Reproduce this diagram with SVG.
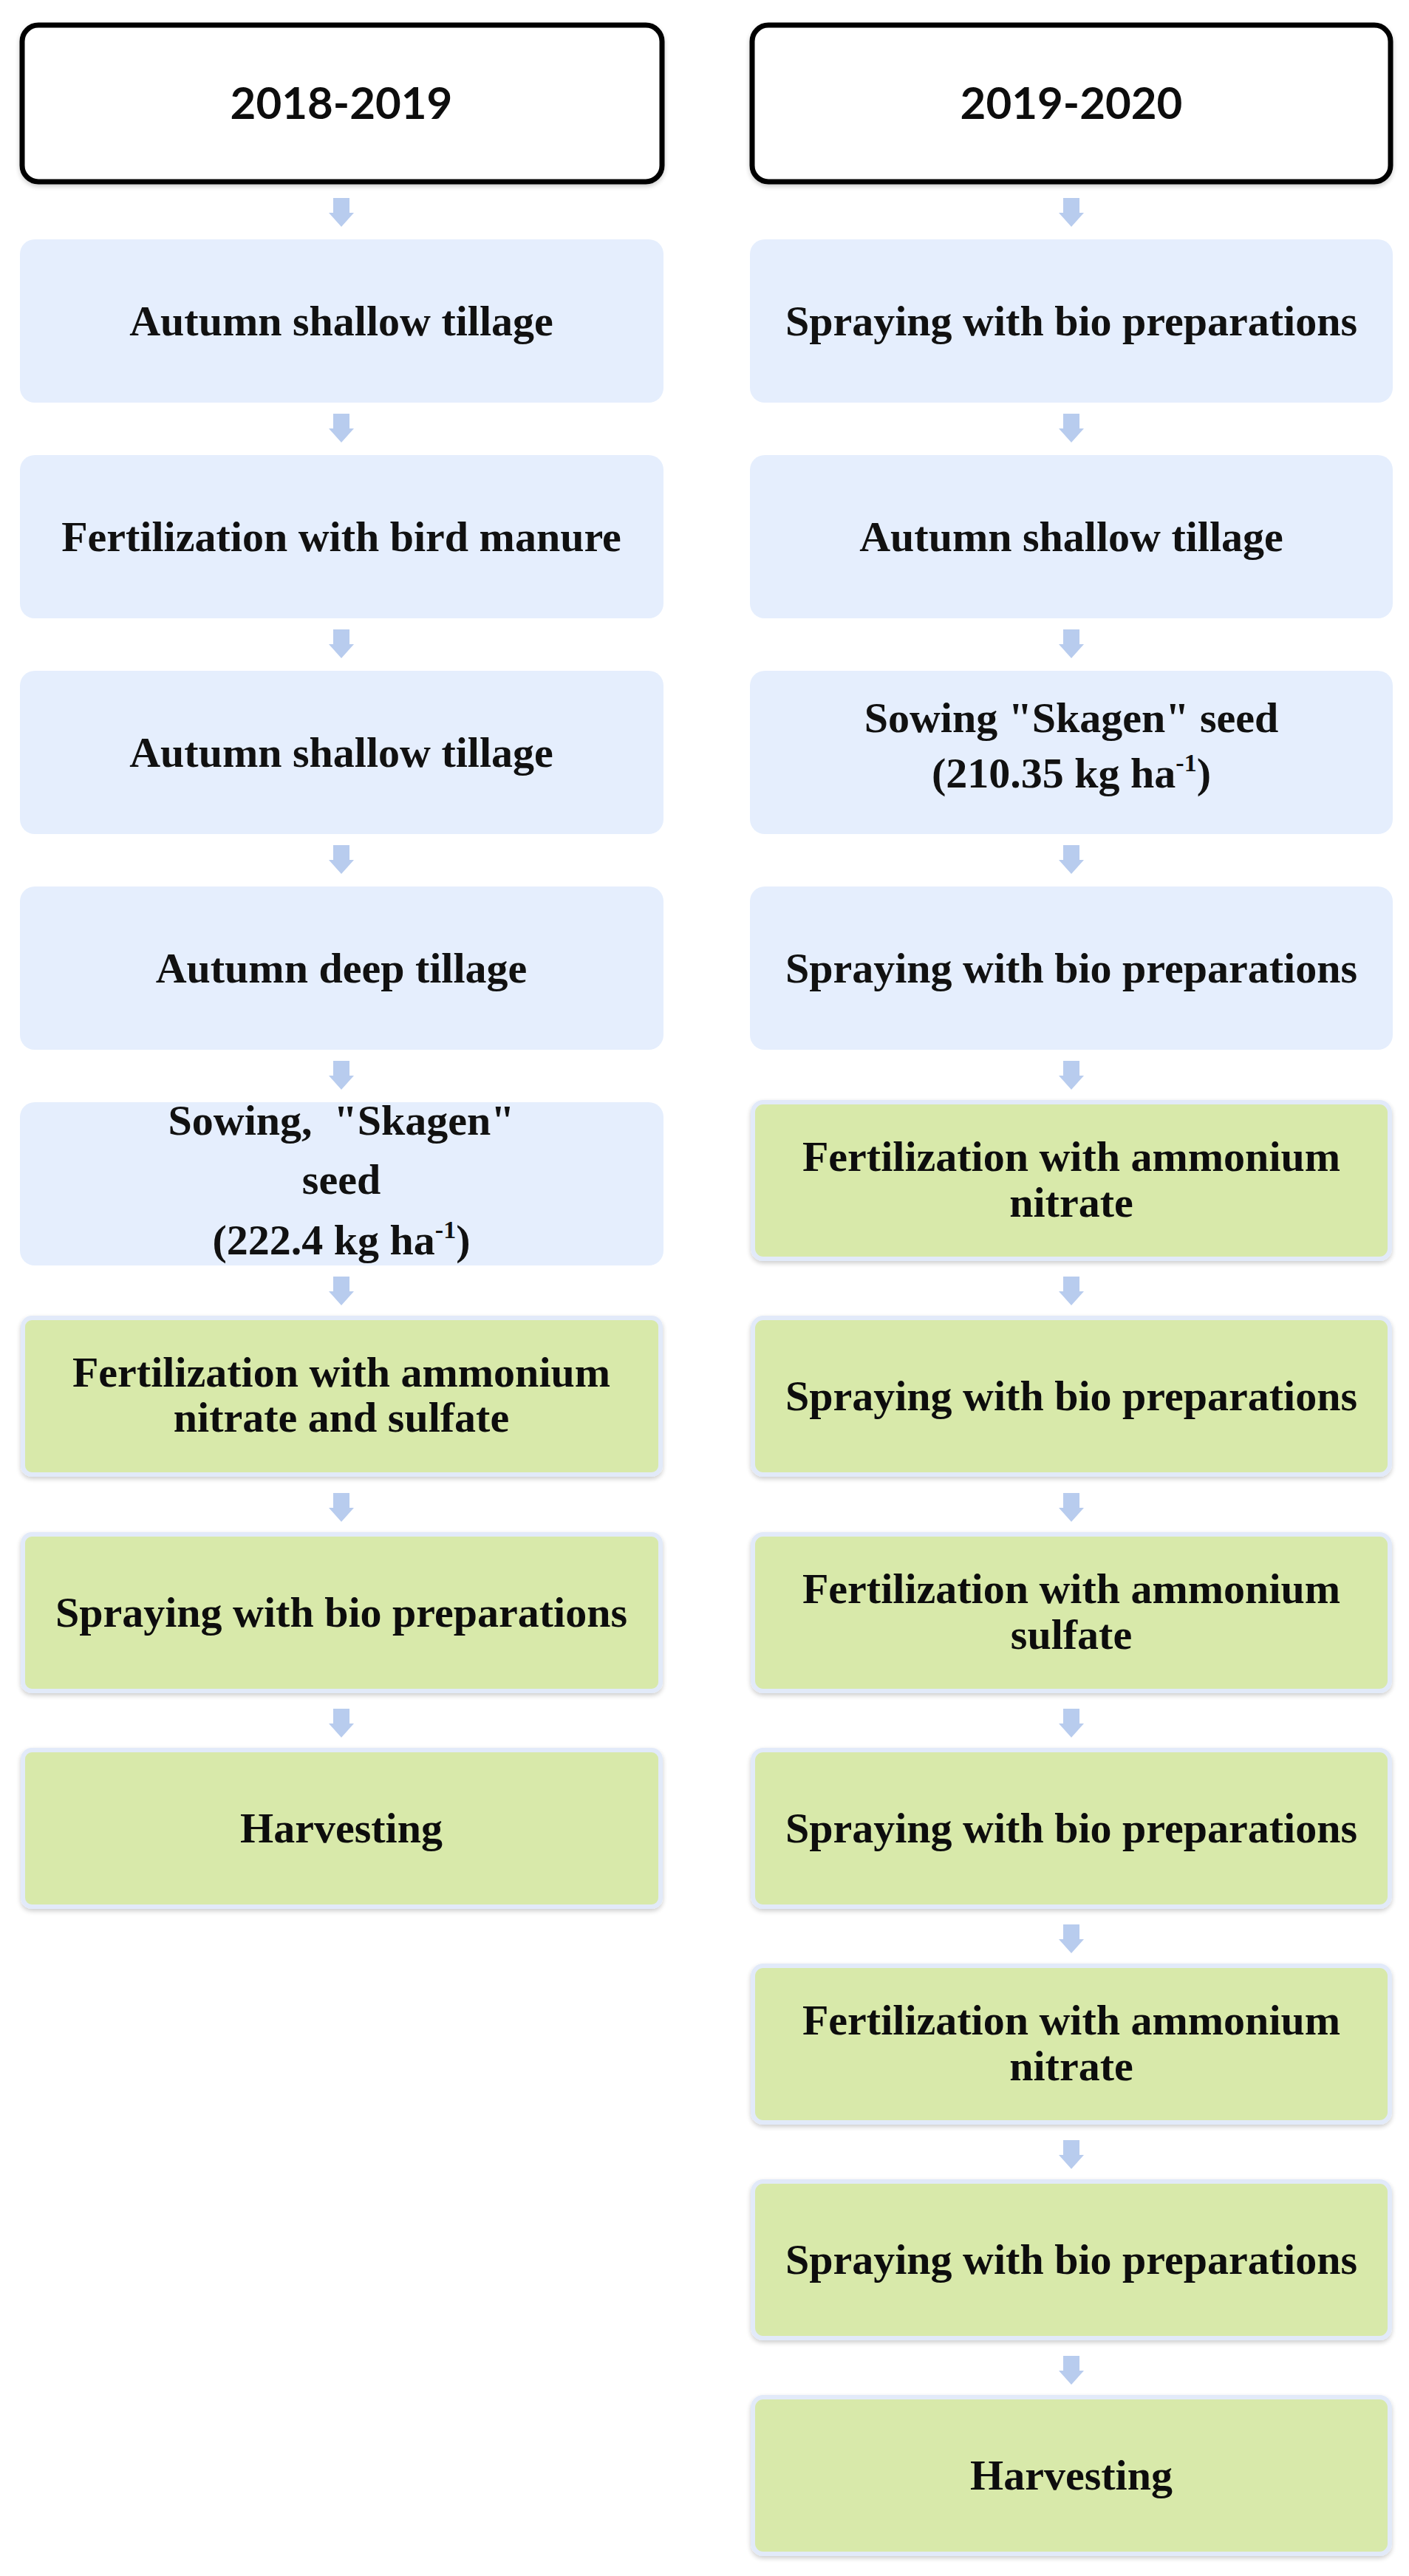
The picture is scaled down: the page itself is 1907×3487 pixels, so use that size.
<svg xmlns="http://www.w3.org/2000/svg" width="1907" height="3487" viewBox="0 0 1907 3487">
<style>
.hdr{fill:#ffffff;stroke:#000000;stroke-width:7}
.blue{fill:#E5EEFD}
.green{fill:#D8E9AA;stroke:#E2EAF9;stroke-width:6}
.ht{font-family:Lato,"Liberation Sans",sans-serif;font-weight:bold;font-size:60px;fill:#111;text-anchor:middle}
.t{font-family:"Liberation Serif","Times New Roman",serif;font-weight:bold;font-size:58px;fill:#111;text-anchor:middle}
.sup{font-size:34px}
.arr{fill:#B8CCEE}
</style>
<defs>
<filter id="sh" x="-5%" y="-10%" width="110%" height="125%">
<feGaussianBlur in="SourceAlpha" stdDeviation="3"/>
<feOffset dx="0" dy="3" result="b"/>
<feComponentTransfer><feFuncA type="linear" slope="0.2"/></feComponentTransfer>
<feMerge><feMergeNode/><feMergeNode in="SourceGraphic"/></feMerge>
</filter>
<path id="a" d="M-11,0 H11 V20 H17 L0,39 L-17,20 H-11 Z"/>
</defs>
<rect width="1907" height="3487" fill="#ffffff"/>

<g id="connectors" class="arr">
<use href="#a" x="462" y="268"/>
<use href="#a" x="462" y="560"/>
<use href="#a" x="462" y="852"/>
<use href="#a" x="462" y="1144"/>
<use href="#a" x="462" y="1436"/>
<use href="#a" x="462" y="1728"/>
<use href="#a" x="462" y="2021"/>
<use href="#a" x="462" y="2313"/>
<use href="#a" x="1450" y="268"/>
<use href="#a" x="1450" y="560"/>
<use href="#a" x="1450" y="852"/>
<use href="#a" x="1450" y="1144"/>
<use href="#a" x="1450" y="1436"/>
<use href="#a" x="1450" y="1728"/>
<use href="#a" x="1450" y="2021"/>
<use href="#a" x="1450" y="2313"/>
<use href="#a" x="1450" y="2605"/>
<use href="#a" x="1450" y="2897"/>
<use href="#a" x="1450" y="3189"/>
</g>

<g id="h1" filter="url(#sh)"><rect class="hdr" x="30" y="34" width="866" height="212" rx="22"/><text class="ht" x="462" y="161">2018-2019</text></g>
<g id="h2" filter="url(#sh)"><rect class="hdr" x="1018" y="34" width="864" height="212" rx="22"/><text class="ht" x="1450" y="161">2019-2020</text></g>

<g id="L1"><rect class="blue" x="27" y="324" width="871" height="221" rx="20"/><text class="t" x="462" y="454">Autumn shallow tillage</text></g>
<g id="L2"><rect class="blue" x="27" y="616" width="871" height="221" rx="20"/><text class="t" x="462" y="746">Fertilization with bird manure</text></g>
<g id="L3"><rect class="blue" x="27" y="908" width="871" height="221" rx="20"/><text class="t" x="462" y="1038">Autumn shallow tillage</text></g>
<g id="L4"><rect class="blue" x="27" y="1200" width="871" height="221" rx="20"/><text class="t" x="462" y="1330">Autumn deep tillage</text></g>
<g id="L5"><rect class="blue" x="27" y="1492" width="871" height="221" rx="20"/><text class="t" x="462" y="1536" xml:space="preserve">Sowing,  "Skagen"</text><text class="t" x="462" y="1616">seed</text><text class="t" x="462" y="1698">(222.4 kg ha<tspan class="sup" dy="-22">-1</tspan><tspan dy="22">)</tspan></text></g>
<g id="L6" filter="url(#sh)"><rect class="green" x="31" y="1784" width="863" height="212" rx="12"/><text class="t" x="462" y="1877">Fertilization with ammonium</text><text class="t" x="462" y="1938">nitrate and sulfate</text></g>
<g id="L7" filter="url(#sh)"><rect class="green" x="31" y="2077" width="863" height="212" rx="12"/><text class="t" x="462" y="2202">Spraying with bio preparations</text></g>
<g id="L8" filter="url(#sh)"><rect class="green" x="31" y="2369" width="863" height="212" rx="12"/><text class="t" x="462" y="2494">Harvesting</text></g>

<g id="R1"><rect class="blue" x="1015" y="324" width="870" height="221" rx="20"/><text class="t" x="1450" y="454">Spraying with bio preparations</text></g>
<g id="R2"><rect class="blue" x="1015" y="616" width="870" height="221" rx="20"/><text class="t" x="1450" y="746">Autumn shallow tillage</text></g>
<g id="R3"><rect class="blue" x="1015" y="908" width="870" height="221" rx="20"/><text class="t" x="1450" y="991">Sowing "Skagen" seed</text><text class="t" x="1450" y="1066">(210.35 kg ha<tspan class="sup" dy="-22">-1</tspan><tspan dy="22">)</tspan></text></g>
<g id="R4"><rect class="blue" x="1015" y="1200" width="870" height="221" rx="20"/><text class="t" x="1450" y="1330">Spraying with bio preparations</text></g>
<g id="R5" filter="url(#sh)"><rect class="green" x="1019" y="1492" width="862" height="212" rx="14"/><text class="t" x="1450" y="1585">Fertilization with ammonium</text><text class="t" x="1450" y="1647">nitrate</text></g>
<g id="R6" filter="url(#sh)"><rect class="green" x="1019" y="1784" width="862" height="212" rx="14"/><text class="t" x="1450" y="1909">Spraying with bio preparations</text></g>
<g id="R7" filter="url(#sh)"><rect class="green" x="1019" y="2077" width="862" height="212" rx="14"/><text class="t" x="1450" y="2170">Fertilization with ammonium</text><text class="t" x="1450" y="2232">sulfate</text></g>
<g id="R8" filter="url(#sh)"><rect class="green" x="1019" y="2369" width="862" height="212" rx="14"/><text class="t" x="1450" y="2494">Spraying with bio preparations</text></g>
<g id="R9" filter="url(#sh)"><rect class="green" x="1019" y="2661" width="862" height="212" rx="14"/><text class="t" x="1450" y="2754">Fertilization with ammonium</text><text class="t" x="1450" y="2816">nitrate</text></g>
<g id="R10" filter="url(#sh)"><rect class="green" x="1019" y="2953" width="862" height="212" rx="14"/><text class="t" x="1450" y="3078">Spraying with bio preparations</text></g>
<g id="R11" filter="url(#sh)"><rect class="green" x="1019" y="3245" width="862" height="212" rx="14"/><text class="t" x="1450" y="3370">Harvesting</text></g>
</svg>
